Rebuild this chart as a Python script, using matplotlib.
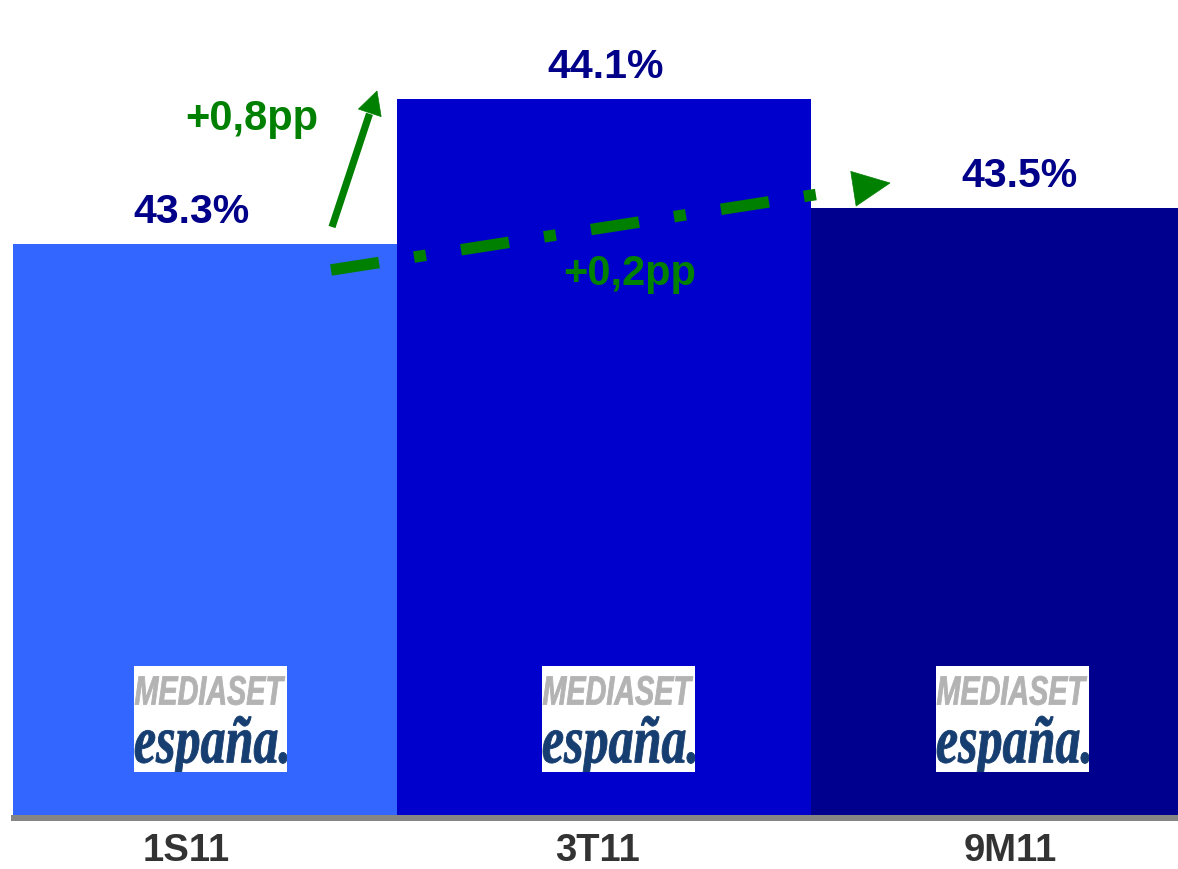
import numpy as np
import matplotlib
matplotlib.use('Agg')
import matplotlib.pyplot as plt
from matplotlib.patches import Rectangle, Polygon, PathPatch
from matplotlib.lines import Line2D
from matplotlib.textpath import TextPath
from matplotlib.font_manager import FontProperties
from matplotlib.transforms import Affine2D

# ---- data ----
periods = ['1S11', '3T11', '9M11']
share = [43.3, 44.1, 43.5]
value_labels = ['43.3%', '44.1%', '43.5%']
change_labels = ['+0,8pp', '+0,2pp']
bar_colors = ['#3366FF', '#0000CC', '#00008F']

plt.rcParams['font.family'] = ['Liberation Sans', 'DejaVu Sans']
plt.rcParams['lines.scale_dashes'] = False

W, H = 1178, 870
fig = plt.figure(figsize=(W / 100, H / 100), dpi=100)
fig.patch.set_facecolor('white')


def fx(x):
    return x / W


def fy(y):
    return 1 - y / H


PT = 0.72  # points per pixel at dpi 100

ax = fig.add_axes([fx(13), fy(816), fx(1178) - fx(13), fy(0) - fy(816)])
widths = np.array([1.0, 1.078, 0.956])
lefts = np.concatenate([[0], np.cumsum(widths)[:-1]])
centers = lefts + widths / 2
ax.bar(lefts, share, width=widths, align='edge', color=bar_colors,
       linewidth=0)
ax.set_xlim(0, widths.sum())
ax.set_ylim(40.15, 44.652)
ax.axis('off')

# value labels
val_dx = [-13, 2, 25.5]
for c, v, lbl, dx in zip(centers, share, value_labels, val_dx):
    ax.annotate(lbl, xy=(c, v), xytext=(dx * PT, 22 * PT),
                textcoords='offset points', ha='center', va='baseline',
                fontsize=29.5, fontweight='bold', color='#000088')

# category labels
tick_dx = [-19, -6, 15.5]
for c, p, dx in zip(centers, periods, tick_dx):
    ax.annotate(p, xy=(c, 0), xycoords=('data', 'axes fraction'),
                xytext=(dx * PT, -45 * PT), textcoords='offset points',
                ha='center', va='baseline', fontsize=27.5,
                fontweight='bold', color='#333333', annotation_clip=False)

# baseline
fig.add_artist(Line2D([fx(11), fx(1178)], [fy(819), fy(819)],
                      transform=fig.transFigure, color='#858585',
                      lw=6 * PT, solid_capstyle='butt', zorder=2))

# logos
def fit_text(s, x0, x1, y0, y1, prop, color):
    tp = TextPath((0, 0), s, size=1, prop=prop)
    bb = tp.get_extents()
    sx = (fx(x1) - fx(x0)) / bb.width
    sy = (fy(y0) - fy(y1)) / bb.height
    tr = (Affine2D().translate(-bb.x0, -bb.y0).scale(sx, sy)
          .translate(fx(x0), fy(y1)) + fig.transFigure)
    patch = PathPatch(tp, transform=tr, facecolor=color, edgecolor=color,
                      lw=0.6, zorder=3)
    fig.add_artist(patch)
    return patch

fp_med = FontProperties(family='Liberation Sans', weight='bold', style='italic')
fp_esp = FontProperties(family='Liberation Serif', weight='bold', style='italic')
for lx in [134, 542, 936]:
    box = Rectangle((fx(lx), fy(773)), fx(153), 106 / H,
                    transform=fig.transFigure, facecolor='white',
                    edgecolor='none', zorder=2)
    fig.add_artist(box)
    fit_text('MEDIASET', lx + 1, lx + 151, 677, 706, fp_med, '#b3b3b3')
    p = fit_text('españa.', lx + 1, lx + 153, 717, 778, fp_esp, '#173e70')
    p.set_clip_path(box)

GREEN = '#008000'


def arrow_head(tail, tip, length, half):
    t = np.array(tail, float)
    h = np.array(tip, float)
    u = (h - t) / np.linalg.norm(h - t)
    n = np.array([-u[1], u[0]])
    base = h - length * u
    pts = [h, base + half * n, base - half * n]
    fig.add_artist(Polygon([(fx(a), fy(b)) for a, b in pts],
                           closed=True, transform=fig.transFigure,
                           facecolor=GREEN, edgecolor=GREEN, lw=0.5,
                           zorder=4))
    return base

# solid arrow (+0,8pp)
b1 = arrow_head((332, 228), (377, 92), 23, 12)
fig.add_artist(Line2D([fx(332), fx(b1[0] - 0.3)], [fy(228), fy(b1[1] + 1)],
                      transform=fig.transFigure, color=GREEN, lw=5.2,
                      solid_capstyle='butt', zorder=4))

# dash-dot arrow (+0,2pp)
tail2, tip2 = (331, 271), (890, 184)
arrow_head(tail2, tip2, 37, 17.5)
t2 = np.array(tail2, float)
u2 = (np.array(tip2, float) - t2) / np.linalg.norm(np.array(tip2) - t2)
end2 = t2 + u2 * 492
dline = Line2D([fx(t2[0]), fx(end2[0])], [fy(t2[1]), fy(end2[1])],
               transform=fig.transFigure, color=GREEN, lw=8.3,
               dash_capstyle='butt', zorder=4)
dline.set_dashes((35, 25.5, 8.7, 25.5))
fig.add_artist(dline)

fig.text(fx(252), fy(130), change_labels[0], ha='center', va='baseline',
         fontsize=30, fontweight='bold', color=GREEN)
fig.text(fx(630), fy(285), change_labels[1], ha='center', va='baseline',
         fontsize=30, fontweight='bold', color=GREEN)

fig.savefig('out.png', dpi=100, facecolor='white')
